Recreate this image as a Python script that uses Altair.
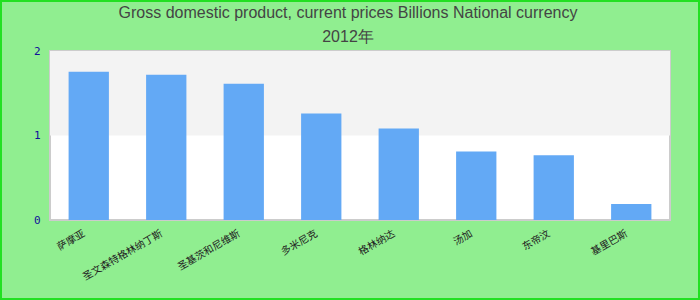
import altair as alt
import pandas as pd

categories = ["萨摩亚", "圣文森特格林纳丁斯", "圣基茨和尼维斯", "多米尼克", "格林纳达", "汤加", "东帝汶", "基里巴斯"]
values = [1.753, 1.718, 1.612, 1.259, 1.082, 0.812, 0.765, 0.188]
title_lines = ["Gross domestic product, current prices Billions National currency", "2012年"]
y_domain = [0, 2]

df = pd.DataFrame({"country": categories, "value": values})
band_df = pd.DataFrame({"lo": [1], "hi": [2]})

W, H = 620, 169
PAD = {"left": 50, "top": 51, "right": 30, "bottom": 80}

y_scale = alt.Scale(domain=y_domain, nice=False)

band = alt.Chart(band_df).mark_rect(color="#f3f3f3").encode(
    y=alt.Y("lo:Q", title=None, scale=y_scale),
    y2="hi:Q",
)

bars = alt.Chart(df).mark_bar(color="#63a9f5").encode(
    x=alt.X("country:N", sort=None, title=None,
            scale=alt.Scale(paddingInner=0.48, paddingOuter=0.24),
            axis=alt.Axis(labelAngle=-30, ticks=False, domain=False, labelPadding=8, labelOffset=-7,
                          labelColor="#222222", labelFontSize=10, labelFont="Noto Sans CJK SC")),
    y=alt.Y("value:Q", title=None, scale=y_scale),
)

frame = alt.Chart(alt.Data(values=[{}])).mark_rect(
    filled=False, stroke="#22e022", strokeWidth=2, clip=False
).encode(
    x=alt.value(1 - PAD["left"]),
    x2=alt.value(699 - PAD["left"]),
    y=alt.value(1 - PAD["top"]),
    y2=alt.value(299 - PAD["top"]),
)

chart = alt.layer(band, bars, frame).properties(
    width=W, height=H,
    autosize=alt.AutoSizeParams(type="none"),
    padding=PAD,
    background="#90ee90",
    title=alt.Title(title_lines, fontSize=16, color="#444444", font="Liberation Sans",
                    fontWeight="normal", anchor="middle", frame="group", offset=-45, lineHeight=24, dx=-12),
).configure_view(
    fill="white", stroke="#cccccc", strokeWidth=2
).configure_axisY(
    tickCount=2, labelExpr="datum.value", grid=False, ticks=False, domain=False, labelPadding=10,
    labelOverlap=False, labelColor="#10109a", labelFont="DejaVu Sans Mono", labelFontSize=11,
)

chart.save("out.html", embed_options={"renderer": "svg", "actions": False})
